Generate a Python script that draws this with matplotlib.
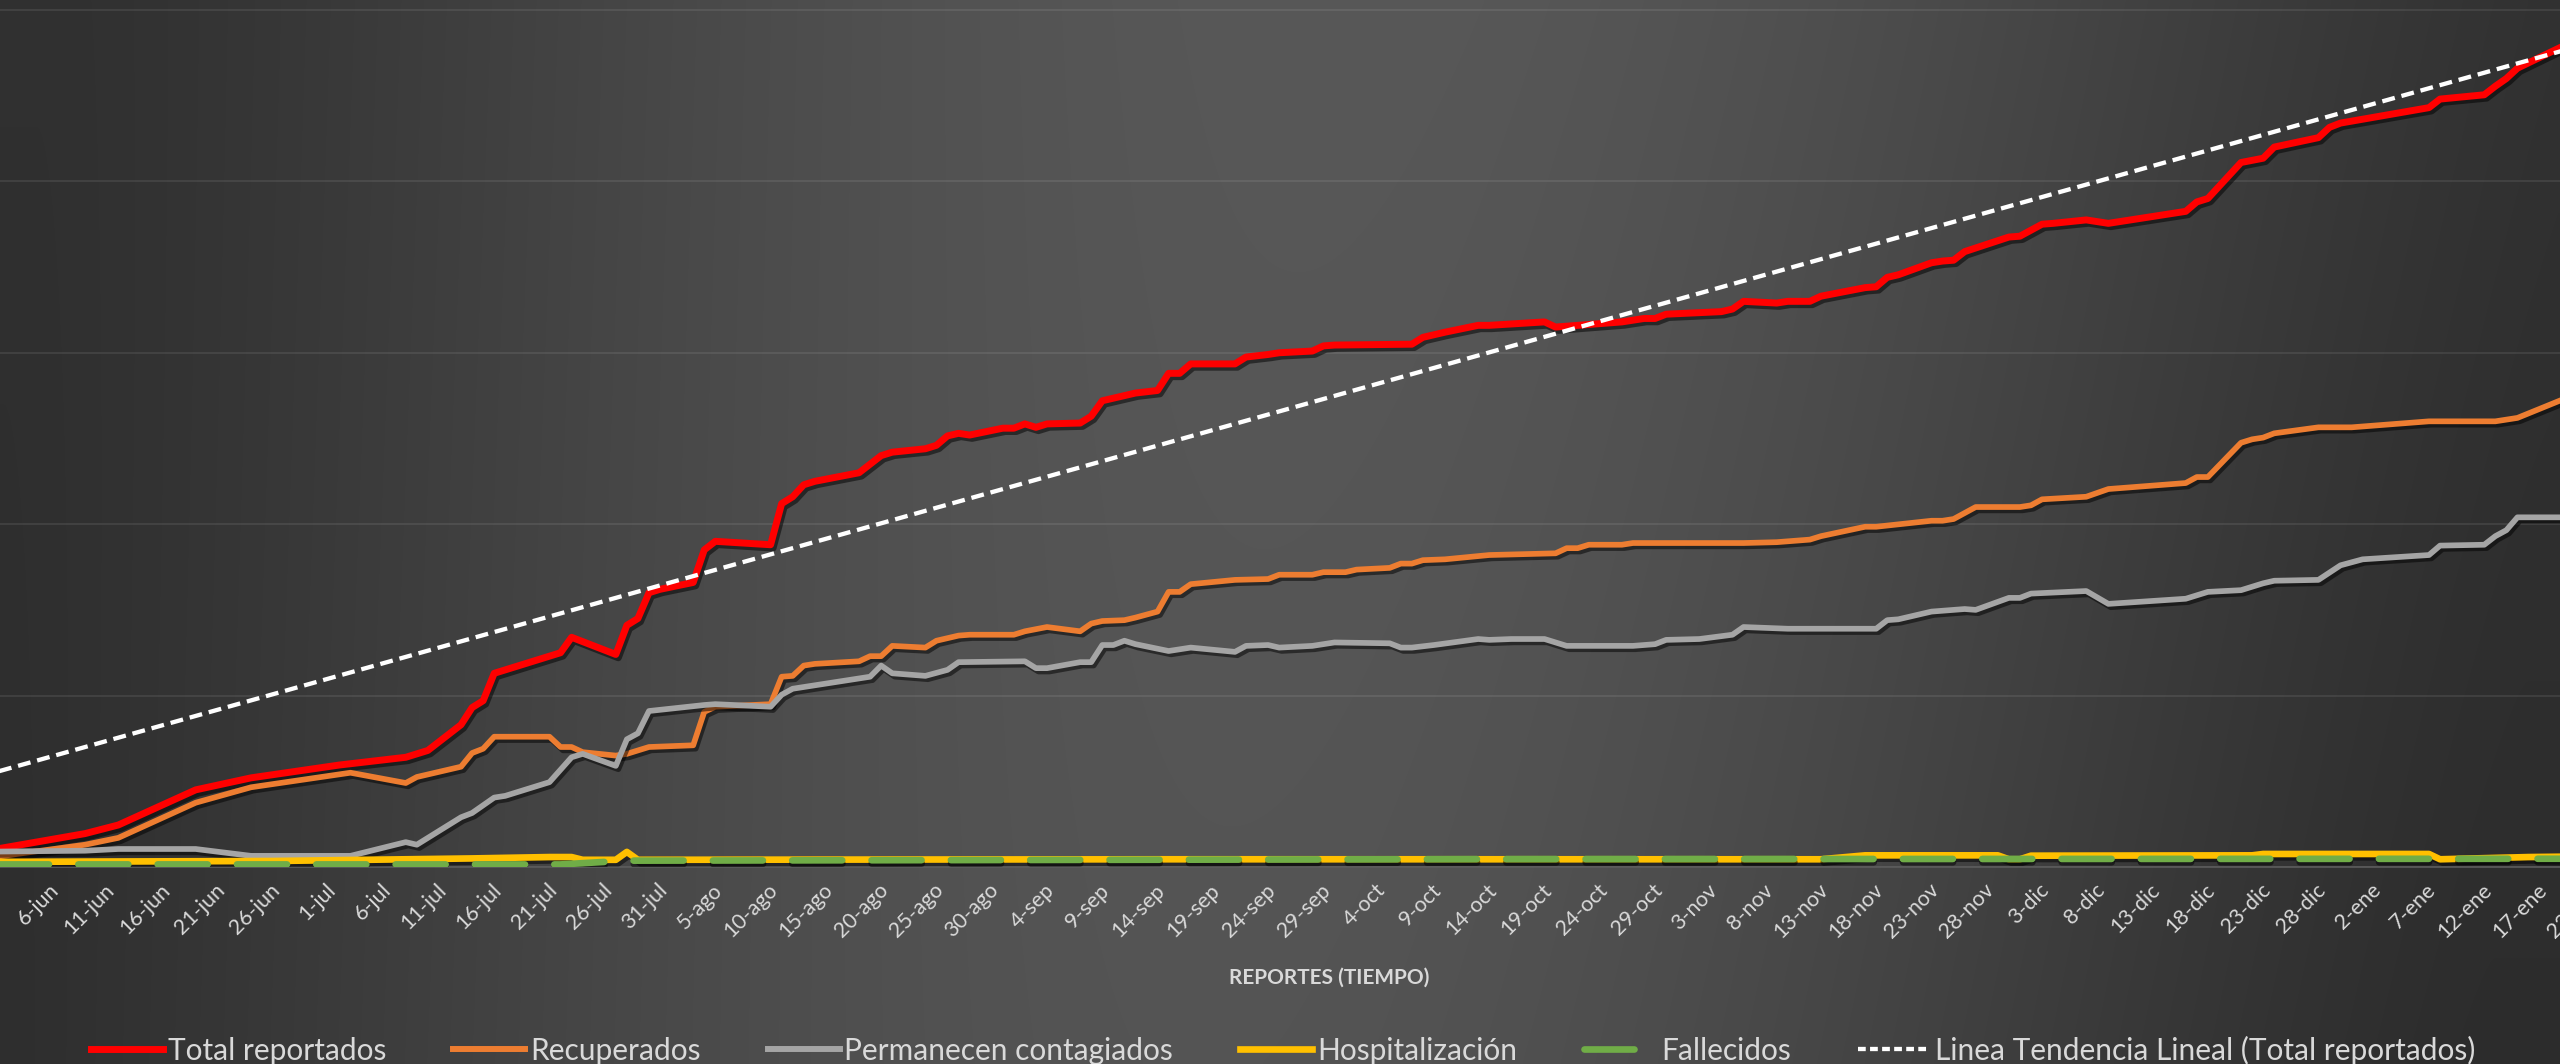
import numpy as np
import pandas as pd
import matplotlib
matplotlib.use("Agg")
import matplotlib.pyplot as plt
import matplotlib.dates as mdates
import matplotlib.patheffects as pe
import matplotlib.transforms as mtransforms
from matplotlib.lines import Line2D

plt.rcParams['font.family'] = ['Lato', 'DejaVu Sans']

# ---------------- data (days since 6-jun-2020) ----------------
inicio = pd.Timestamp("2020-06-06")

total_dias = [-5, 3, 6, 13, 18, 26, 32, 34, 37, 38, 39, 40, 41, 46, 47, 51, 52, 53, 54, 55,
              58, 59, 60, 65, 66, 67, 68, 69, 73, 75, 76, 79, 80, 81, 82, 83, 86, 87, 88, 89,
              90, 93, 94, 95, 97, 98, 100, 101, 102, 103, 107, 108, 110, 111, 114, 115, 116, 123, 124, 126,
              129, 130, 135, 136, 138, 142, 144, 145, 146, 151, 152, 153, 156, 157, 159, 160, 164, 165, 166, 167,
              170, 171, 172, 173, 177, 178, 180, 181, 184, 186, 193, 194, 195, 198, 200, 201, 205, 206, 207, 215,
              216, 220, 221, 222, 223, 227]
total_vals = [105, 195, 245, 450, 520, 595, 640, 680, 830, 930, 970, 1130, 1150, 1250, 1340, 1240, 1410, 1450, 1600, 1620,
              1660, 1850, 1900, 1880, 2120, 2160, 2230, 2250, 2300, 2400, 2420, 2440, 2460, 2515, 2530, 2520, 2560, 2560, 2585, 2565,
              2585, 2590, 2630, 2720, 2750, 2765, 2780, 2880, 2880, 2935, 2935, 2975, 2990, 3000, 3010, 3040, 3045, 3050, 3090, 3120,
              3160, 3160, 3180, 3150, 3160, 3180, 3200, 3200, 3225, 3240, 3255, 3300, 3290, 3300, 3300, 3330, 3380, 3385, 3440, 3455,
              3525, 3535, 3540, 3590, 3675, 3680, 3750, 3755, 3775, 3755, 3825, 3880, 3900, 4110, 4135, 4200, 4255, 4315, 4340, 4430,
              4480, 4505, 4555, 4600, 4660, 4785]

recup_dias = [-5, 3, 6, 13, 18, 27, 32, 33, 37, 38, 39, 40, 45, 46, 47, 48, 51, 52, 54, 58,
              59, 60, 65, 66, 67, 68, 69, 73, 74, 75, 76, 79, 80, 82, 83, 87, 88, 90, 93, 94,
              95, 97, 98, 100, 101, 102, 103, 107, 110, 111, 114, 115, 117, 118, 121, 122, 123, 124, 126, 130,
              136, 137, 138, 139, 142, 143, 153, 156, 159, 160, 164, 165, 170, 171, 172, 173, 174, 178, 179, 180,
              184, 186, 193, 194, 195, 198, 199, 200, 201, 205, 208, 215, 221, 223, 227]
recup_vals = [60, 130, 170, 375, 465, 550, 490, 525, 585, 665, 690, 760, 760, 700, 700, 670, 650, 660, 700, 710,
              905, 935, 950, 1110, 1115, 1175, 1185, 1200, 1230, 1230, 1290, 1280, 1320, 1350, 1355, 1355, 1375, 1400, 1375, 1420,
              1435, 1440, 1455, 1490, 1605, 1605, 1650, 1675, 1680, 1705, 1705, 1720, 1720, 1735, 1745, 1770, 1770, 1790, 1795, 1820,
              1830, 1860, 1860, 1880, 1880, 1890, 1890, 1895, 1910, 1930, 1985, 1985, 2020, 2020, 2030, 2065, 2100, 2100, 2110, 2145,
              2160, 2205, 2240, 2275, 2275, 2475, 2495, 2505, 2530, 2565, 2565, 2600, 2600, 2620, 2725]

activos_dias = [-5, 3, 6, 13, 18, 27, 32, 33, 37, 38, 40, 41, 45, 47, 48, 51, 52, 53, 54, 59,
                60, 65, 66, 67, 74, 75, 76, 79, 81, 82, 88, 89, 90, 93, 94, 95, 96, 97, 98, 101,
                103, 107, 108, 110, 111, 114, 116, 121, 122, 123, 125, 129, 130, 132, 135, 137, 143, 145, 146, 149,
                152, 153, 157, 165, 166, 167, 170, 171, 173, 174, 177, 178, 179, 184, 186, 193, 195, 198, 200, 201,
                205, 207, 209, 215, 216, 220, 221, 222, 223, 227]
activos_vals = [90, 95, 105, 105, 65, 65, 145, 130, 290, 315, 405, 415, 495, 640, 660, 590, 745, 780, 910, 945,
                950, 935, 1005, 1040, 1110, 1175, 1130, 1115, 1150, 1195, 1200, 1160, 1160, 1195, 1195, 1295, 1295, 1320, 1300, 1260,
                1280, 1255, 1290, 1295, 1280, 1290, 1310, 1305, 1280, 1280, 1295, 1330, 1325, 1330, 1330, 1290, 1290, 1300, 1325, 1330,
                1355, 1400, 1390, 1390, 1440, 1445, 1490, 1495, 1505, 1500, 1570, 1570, 1595, 1610, 1535, 1565, 1605, 1615, 1655, 1670,
                1675, 1760, 1795, 1820, 1875, 1880, 1930, 1965, 2040, 2040]

hosp_dias = [-5, 20, 38, 45, 47, 48, 51, 52, 53, 100, 160, 164, 176, 177, 178, 179, 199, 200, 215, 216, 224, 227]
hosp_vals = [30, 35, 50, 58, 58, 42, 42, 88, 42, 45, 45, 68, 68, 45, 45, 66, 68, 76, 76, 45, 58, 60]

fall_dias = [-5, 46, 52, 80, 130, 227]
fall_vals = [15, 15, 37, 40, 46, 48]

tend_dias = [-5, 230]
tend_vals = [555, 4815]

etiquetas_x = ["6-jun", "11-jun", "16-jun", "21-jun", "26-jun", "1-jul", "6-jul", "11-jul", "16-jul", "21-jul",
               "26-jul", "31-jul", "5-ago", "10-ago", "15-ago", "20-ago", "25-ago", "30-ago", "4-sep", "9-sep",
               "14-sep", "19-sep", "24-sep", "29-sep", "4-oct", "9-oct", "14-oct", "19-oct", "24-oct", "29-oct",
               "3-nov", "8-nov", "13-nov", "18-nov", "23-nov", "28-nov", "3-dic", "8-dic", "13-dic", "18-dic",
               "23-dic", "28-dic", "2-ene", "7-ene", "12-ene", "17-ene", "22-ene"]

nombres = ["Total reportados", "Recuperados", "Permanecen contagiados", "Hospitalización",
           "Fallecidos", "Linea Tendencia Lineal (Total reportados)"]


def fechas(dias):
    return mdates.date2num(inicio + pd.to_timedelta(np.asarray(dias, dtype=float), unit="D"))


# ---------------- figure ----------------
W, H = 2560, 1064
fig = plt.figure(figsize=(W / 100, H / 100), dpi=100)

# background gradient
bg = fig.add_axes([0, 0, 1, 1], zorder=-10)
gx = np.linspace(0, 1, 640)
gy = np.linspace(0, 1, 266)
GX, GY = np.meshgrid(gx, gy)
lev = 0.19 + 0.155 * np.sin(np.pi * np.clip(GX + 0.05 * GY - 0.02, 0, 1)) ** 1.4 - 0.015 * GY
rgb = np.dstack([lev, lev, lev])
bg.imshow(rgb, extent=[0, 1, 0, 1], aspect='auto', origin='upper', interpolation='bilinear')
bg.set_axis_off()

ybot = 867
ax = fig.add_axes([0, 1 - ybot / H, 1, ybot / H])
ax.patch.set_alpha(0)
ax.set_xlim(fechas([-4.70])[0], fechas([226.85])[0])
ax.set_ylim(0, 5058)
ax.set_yticks([0, 1000, 2000, 3000, 4000, 5000])
ax.yaxis.grid(True, color='white', alpha=0.09, lw=1.3)
ax.set_axisbelow(True)
ax.tick_params(axis='both', length=0, labelleft=False, labelbottom=False)
for s in ['left', 'right', 'top']:
    ax.spines[s].set_visible(False)
ax.spines['bottom'].set_color('#5c5c5c')
ax.spines['bottom'].set_linewidth(1.2)

shadow = [pe.SimpleLineShadow(offset=(1.8, -2.4), shadow_color='black', alpha=0.5), pe.Normal()]

ax.plot(fechas(total_dias), total_vals, color='#FF0000', lw=5.0, solid_joinstyle='round',
        path_effects=shadow, zorder=3)
ax.plot(fechas(recup_dias), recup_vals, color='#ED7D31', lw=4.1, solid_joinstyle='round',
        path_effects=shadow, zorder=3)
ax.plot(fechas(activos_dias), activos_vals, color='#A5A5A5', lw=4.1, solid_joinstyle='round',
        path_effects=shadow, zorder=3)
ax.plot(fechas(hosp_dias), hosp_vals, color='#FFC000', lw=4.8, solid_joinstyle='round',
        path_effects=shadow, zorder=3)
ax.plot(fechas(fall_dias), fall_vals, color='#70AD47', lw=4.8, linestyle=(0, (7.5, 4.4)),
        dash_capstyle='round', path_effects=shadow, zorder=3)
ax.plot(fechas(tend_dias), tend_vals, color='white', lw=3.1, linestyle=(0, (3.0, 1.6)),
        zorder=4)

# rotated date labels (drawn through the x scale; last one runs off the edge)
lab_tr = mtransforms.offset_copy(ax.get_xaxis_transform(), fig=fig, x=-3, y=-13, units='dots')
for i, lab in enumerate(etiquetas_x):
    ax.text(fechas([5 * i])[0], 0, lab, transform=lab_tr, rotation=45, rotation_mode='anchor',
            ha='right', va='top', fontsize=15.5, color='#d9d9d9', clip_on=False)

fig.text(1329 / W, 1 - 978 / H, "REPORTES (TIEMPO)", ha='center', va='center',
         fontsize=15, fontweight='bold', color='#d9d9d9')

handles = [
    Line2D([], [], color='#FF0000', lw=5.0),
    Line2D([], [], color='#ED7D31', lw=4.3),
    Line2D([], [], color='#A5A5A5', lw=4.3),
    Line2D([], [], color='#FFC000', lw=4.8),
    Line2D([], [], color='#70AD47', lw=4.8, linestyle=(0, (7.5, 4.4)), dash_capstyle='round'),
    Line2D([], [], color='white', lw=3.1, linestyle=(0, (1.8, 1.0))),
]
fs = 21.5
fpx = fs * 100 / 72
leg = fig.legend(handles, nombres, loc='center', bbox_to_anchor=(1283 / W, 1 - 1050 / H), ncol=6,
                 frameon=False, fontsize=fs, labelcolor='#d9d9d9', handlelength=72 / fpx,
                 handletextpad=5 / fpx, columnspacing=67 / fpx, borderpad=0)

fig.savefig("out.png", dpi=100)
